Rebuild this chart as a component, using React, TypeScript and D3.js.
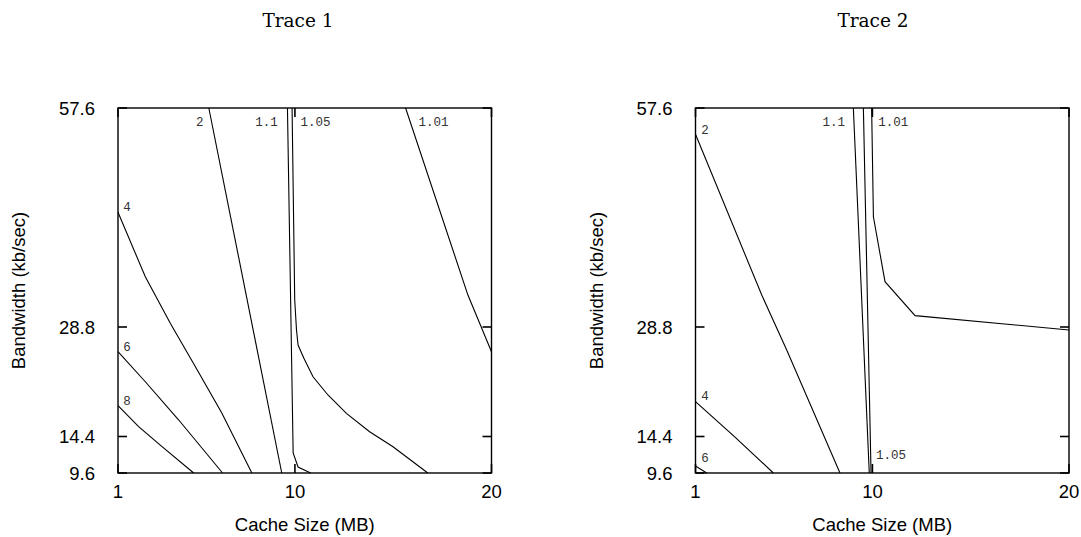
import React from "react";
import * as d3 from "d3";

// ---- axis ticks ----
const xTicks = [1, 10, 20];
const yTicks = [9.6, 14.4, 28.8, 57.6];
const xDomain = [1, 20];
const yDomain = [9.6, 57.6];

const titles = ["Trace 1", "Trace 2"];
const xLabel = "Cache Size (MB)";
const yLabel = "Bandwidth (kb/sec)";

// ---- Trace 1 contours: [cache MB, bandwidth kb/s] ----
const t1_c2 = [[5.62, 57.6], [9.33, 9.6]];
const t1_c4 = [[1, 43.9], [2.39, 35.4], [3.66, 29.3], [4.93, 23.6], [6.28, 17.5], [7.81, 9.6]];
const t1_c6 = [[1, 25.55], [2.39, 21.6], [4.08, 16.6], [6.32, 9.6]];
const t1_c8 = [[1, 18.45], [2.05, 15.7], [3.24, 13.06], [4.85, 9.6]];
const t1_c11 = [[9.62, 57.6], [9.91, 12.23], [10.16, 10.39], [10.8, 9.6]];
const t1_c105 = [[9.855, 57.6], [9.99, 32.35], [10.08, 28.41], [10.16, 26.43], [10.45, 24.72], [10.92, 22.26], [11.68, 19.86], [12.62, 17.45], [13.8, 15.03], [14.99, 13.06], [16.76, 9.6]];
const t1_c101 = [[15.63, 57.6], [18.8, 33.0], [20, 25.55]];

// ---- Trace 2 contours ----
const t2_c2 = [[1, 54.14], [4.37, 33.0], [5.64, 25.78], [8.35, 9.6]];
const t2_c4 = [[1, 18.98], [3.01, 14.33], [4.96, 9.6]];
const t2_c6 = [[1, 10.52], [1.57, 9.6]];
const t2_c11 = [[9.03, 57.6], [9.84, 9.6]];
const t2_c105 = [[9.54, 57.6], [9.93, 9.6]];
const t2_c101 = [[9.96, 57.6], [10.05, 43.3], [10.64, 34.76], [12.17, 30.29], [20, 28.41]];

type Contour = { pts: number[][]; label: string; at: "first" | "last"; dx: number; dy: number };

const panels: { title: string; left: number; titleX: number; contours: Contour[] }[] = [
  {
    title: titles[0],
    left: 118,
    titleX: 298,
    contours: [
      { pts: t1_c2, label: "2", at: "first", dx: -9, dy: 15 },
      { pts: t1_c4, label: "4", at: "first", dx: 9, dy: -4.5 },
      { pts: t1_c6, label: "6", at: "first", dx: 9, dy: -3.5 },
      { pts: t1_c8, label: "8", at: "first", dx: 9, dy: -4 },
      { pts: t1_c11, label: "1.1", at: "first", dx: -21, dy: 15 },
      { pts: t1_c105, label: "1.05", at: "first", dx: 23.5, dy: 15 },
      { pts: t1_c101, label: "1.01", at: "first", dx: 28, dy: 15 },
    ],
  },
  {
    title: titles[1],
    left: 695.5,
    titleX: 873,
    contours: [
      { pts: t2_c2, label: "2", at: "first", dx: 9.5, dy: -3.5 },
      { pts: t2_c4, label: "4", at: "first", dx: 9.5, dy: -4.5 },
      { pts: t2_c6, label: "6", at: "first", dx: 9.5, dy: -7.5 },
      { pts: t2_c11, label: "1.1", at: "first", dx: -19.5, dy: 15 },
      { pts: t2_c105, label: "1.05", at: "last", dx: 20, dy: -17 },
      { pts: t2_c101, label: "1.01", at: "first", dx: 21.5, dy: 15 },
    ],
  },
];

const W = 373.5;
const TOP = 108;
const BOTTOM = 473;
const TICK = 9;
const SANS = "'Liberation Sans', Arial, Helvetica, sans-serif";

function Panel({ p }: { p: (typeof panels)[number] }) {
  const x = d3.scaleLinear().domain(xDomain).range([p.left, p.left + W]);
  const y = d3.scaleLinear().domain(yDomain).range([BOTTOM, TOP]);
  const line = d3
    .line<number[]>()
    .x((d) => x(d[0]))
    .y((d) => y(d[1]));
  const cx = p.left + W / 2;
  return (
    <g>
      <text x={p.titleX} y={27} textAnchor="middle" fontFamily="'DejaVu Serif', serif" fontSize={18.5} fill="#000">
        {p.title}
      </text>
      {/* contours */}
      {p.contours.map((c, i) => (
        <path key={i} d={line(c.pts) || ""} fill="none" stroke="#000" strokeWidth={1.1} />
      ))}
      {p.contours.map((c, i) => {
        const pt = c.at === "first" ? c.pts[0] : c.pts[c.pts.length - 1];
        return (
          <text
            key={"l" + i}
            x={x(pt[0]) + c.dx}
            y={y(pt[1]) + c.dy}
            textAnchor="middle"
            dominantBaseline="central"
            fontFamily="'Liberation Mono', 'Courier New', monospace"
            fontSize={12.5}
            fill="#333"
          >
            {c.label}
          </text>
        );
      })}
      {/* ticks */}
      {xTicks.map((t) => (
        <g key={"xt" + t}>
          <line x1={x(t)} x2={x(t)} y1={BOTTOM} y2={BOTTOM - TICK} stroke="#000" strokeWidth={1.6} />
          <line x1={x(t)} x2={x(t)} y1={TOP} y2={TOP + TICK} stroke="#000" strokeWidth={1.6} />
          <text x={x(t)} y={498} textAnchor="middle" fontFamily={SANS} fontSize={18.5} fill="#000">
            {t}
          </text>
        </g>
      ))}
      {yTicks.map((t) => (
        <g key={"yt" + t}>
          <line x1={p.left} x2={p.left + TICK} y1={y(t)} y2={y(t)} stroke="#000" strokeWidth={1.6} />
          <line x1={p.left + W} x2={p.left + W - TICK} y1={y(t)} y2={y(t)} stroke="#000" strokeWidth={1.6} />
          <text x={p.left - 23} y={y(t)} dy="0.36em" textAnchor="end" fontFamily={SANS} fontSize={18.5} fill="#000">
            {t}
          </text>
        </g>
      ))}
      {/* frame */}
      <rect x={p.left} y={TOP} width={W} height={BOTTOM - TOP} fill="none" stroke="#000" strokeWidth={1.4} />
      <text x={cx} y={531} textAnchor="middle" fontFamily={SANS} fontSize={18.5} fill="#000">
        {xLabel}
      </text>
      <text
        transform={`translate(${p.left - 93},${(TOP + BOTTOM) / 2}) rotate(-90)`}
        textAnchor="middle"
        fontFamily={SANS}
        fontSize={18.5}
        fill="#000"
      >
        {yLabel}
      </text>
    </g>
  );
}

export default function App() {
  return (
    <svg
      width={1081}
      height={537}
      viewBox="0 0 1081 537"
      style={{ position: "absolute", left: 0, top: 0, background: "#fff" }}
    >
      <rect x={0} y={0} width={1081} height={537} fill="#fff" />
      {panels.map((p, i) => (
        <Panel key={i} p={p} />
      ))}
    </svg>
  );
}
